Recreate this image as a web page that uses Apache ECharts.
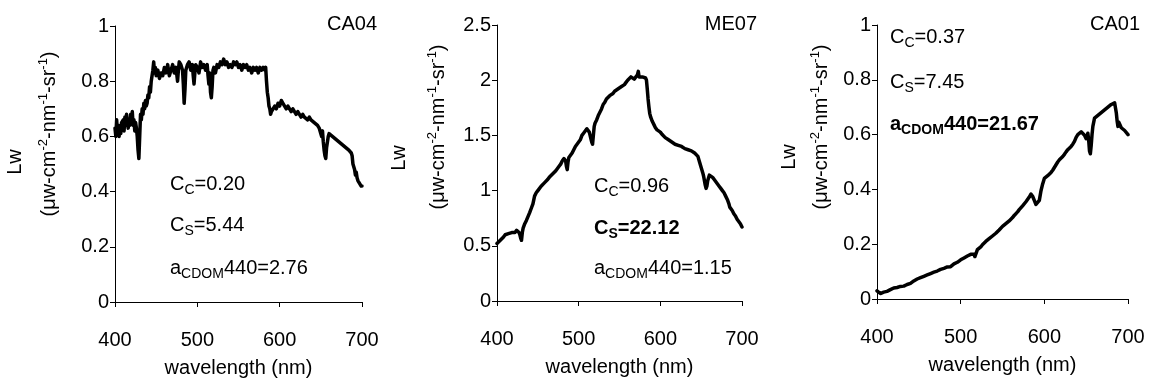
<!DOCTYPE html>
<html><head><meta charset="utf-8">
<script src="https://cdn.jsdelivr.net/npm/echarts@6/dist/echarts.min.js"></script>
<style>html,body{margin:0;padding:0;background:#fff}#c{width:1161px;height:387px}</style>
</head><body><div id="c"></div>
<script>
// Panel CA04
const wl1 = [400,401,402,403,404,405,406,407,408,410,411,412,413,414,415,416,417,418,419,420,421,422,423,424,425,426,427,428,429,430,431,432,433,434,435,436,437,438,439,440,441,442,443,444,445,446,447,448,449,450,452,454,456,458,460,462,464,466,468,470,472,474,476,477,478,480,482,483,484,485,486,488,490,492,494,495,496,497,498,500,502,504,506,508,510,512,513,514,515,516,517,518,519,520,522,524,526,528,530,532,534,536,538,540,542,544,546,548,550,552,554,556,558,560,562,564,566,568,570,572,574,576,578,580,582,583,584,585,586,587,588,589,590,592,594,596,598,600,602,604,606,608,610,612,614,616,618,620,622,624,626,628,630,632,634,636,638,640,642,644,646,648,650,651,652,653,654,655,656,657,658,659,660,662,664,666,668,670,672,674,676,678,680,682,684,686,687,688,689,690,691,692,693,694,695,696,697,698,699,700];
const lw1 = [.63,.60,.66,.61,.64,.60,.63,.61,.65,.66,.62,.67,.64,.68,.65,.63,.66,.64,.68,.65,.69,.64,.66,.62,.65,.63,.60,.55,.52,.60,.68,.66,.70,.68,.72,.70,.73,.71,.72,.75,.74,.78,.76,.80,.82,.84,.87,.83,.85,.82,.84,.81,.83,.82,.85,.83,.86,.82,.84,.86,.83,.85,.80,.84,.87,.86,.84,.79,.72,.77,.84,.86,.87,.84,.86,.82,.79,.83,.86,.85,.83,.87,.85,.86,.84,.86,.82,.79,.83,.76,.74,.78,.84,.85,.83,.86,.85,.87,.86,.88,.86,.87,.85,.86,.85,.87,.86,.87,.85,.86,.84,.86,.85,.86,.84,.85,.83,.85,.84,.85,.83,.85,.84,.85,.84,.85,.80,.76,.74,.71,.70,.68,.69,.70,.71,.70,.72,.71,.73,.72,.71,.70,.71,.70,.69,.70,.69,.68,.69,.68,.67,.68,.67,.67,.66,.67,.66,.66,.65,.65,.64,.63,.61,.60,.62,.58,.55,.53,.52,.56,.58,.60,.61,.61,.60,.60,.59,.59,.58,.58,.57,.57,.56,.56,.55,.55,.54,.53,.50,.49,.48,.46,.47,.45,.44,.44,.43,.43,.42,.42];
// Panel ME07
const wl2 = [400,402,404,406,408,410,412,414,416,418,420,422,424,426,427,428,429,430,431,432,434,436,438,440,442,444,446,448,450,452,454,456,458,460,462,464,466,468,470,472,474,476,478,480,482,483,484,485,486,487,488,490,492,494,496,498,500,502,504,506,508,510,512,513,514,515,516,517,518,519,520,522,524,526,528,530,532,534,536,538,540,542,544,546,548,550,552,554,556,558,560,562,564,566,568,570,572,573,574,576,578,580,582,583,584,585,586,587,588,590,592,594,596,598,600,602,604,606,608,610,612,614,616,618,620,622,624,626,628,630,632,634,636,638,640,642,644,646,648,650,652,653,654,655,656,657,658,660,662,664,666,668,670,672,674,676,678,680,682,684,685,686,688,690,692,694,696,698,700];
const lw2 = [.52,.53,.55,.56,.58,.60,.59,.61,.60,.62,.63,.62,.64,.63,.62,.60,.57,.55,.62,.66,.70,.73,.74,.80,.84,.88,.95,.98,1.00,1.01,1.04,1.05,1.07,1.08,1.10,1.12,1.13,1.15,1.16,1.18,1.19,1.22,1.24,1.27,1.29,1.30,1.27,1.22,1.19,1.26,1.30,1.32,1.34,1.37,1.40,1.42,1.44,1.46,1.50,1.52,1.54,1.56,1.55,1.53,1.50,1.47,1.44,1.42,1.50,1.58,1.61,1.64,1.68,1.71,1.74,1.78,1.80,1.83,1.84,1.86,1.87,1.88,1.90,1.91,1.92,1.93,1.94,1.95,1.96,1.98,2.00,2.01,2.03,2.02,2.01,2.00,2.05,2.08,2.03,2.04,2.03,2.02,2.02,2.00,1.92,1.83,1.76,1.70,1.67,1.63,1.60,1.57,1.55,1.54,1.53,1.51,1.50,1.48,1.47,1.46,1.45,1.44,1.43,1.42,1.41,1.41,1.40,1.40,1.39,1.38,1.38,1.37,1.37,1.36,1.35,1.34,1.33,1.31,1.26,1.21,1.16,1.13,1.09,1.05,1.02,1.04,1.09,1.14,1.13,1.12,1.10,1.08,1.06,1.04,1.02,1.00,.98,.95,.92,.88,.85,.84,.82,.79,.77,.74,.72,.70,.67];
// Panel CA01
const wl3 = [400,402,404,406,408,410,412,414,416,418,420,422,424,426,428,430,432,434,436,438,440,442,444,446,448,450,452,454,456,458,460,462,464,466,468,470,472,474,476,478,480,482,484,486,488,490,492,494,496,498,500,502,504,506,508,510,512,514,516,517,518,520,522,524,526,528,530,532,534,536,538,540,542,544,546,548,550,552,554,556,558,560,562,564,566,568,570,572,574,576,578,580,582,584,585,586,588,590,592,594,596,598,600,602,604,606,608,610,612,614,616,618,620,622,624,626,628,630,632,634,636,638,640,642,644,646,648,650,651,652,653,654,655,656,657,658,660,662,664,666,668,670,672,674,676,678,680,682,684,685,686,687,688,689,690,692,694,696,698,700];
const lw3 = [.03,.025,.02,.025,.025,.03,.028,.032,.034,.036,.04,.038,.042,.044,.046,.048,.047,.05,.053,.055,.057,.062,.066,.07,.073,.076,.078,.08,.083,.086,.088,.09,.093,.096,.098,.10,.102,.105,.108,.11,.112,.115,.117,.12,.118,.124,.128,.13,.134,.138,.143,.146,.15,.154,.157,.161,.163,.166,.163,.155,.158,.18,.185,.19,.198,.205,.21,.214,.22,.226,.23,.234,.24,.246,.252,.258,.265,.27,.275,.28,.285,.29,.297,.305,.31,.318,.326,.333,.34,.347,.355,.362,.372,.383,.39,.375,.36,.345,.342,.36,.395,.42,.44,.445,.45,.455,.462,.47,.48,.49,.50,.508,.515,.52,.528,.537,.545,.55,.557,.565,.575,.59,.60,.605,.61,.605,.598,.585,.59,.605,.58,.54,.53,.56,.60,.63,.66,.665,.67,.675,.68,.685,.69,.695,.70,.705,.71,.712,.716,.72,.68,.65,.63,.645,.64,.625,.62,.615,.61,.60];

const xTicks = [400, 500, 600, 700];
const panelNames = ['CA04', 'ME07', 'CA01'];
const yMax = [1, 2.5, 1];
const yStep = [0.2, 0.5, 0.2];
const xTitle = 'wavelength (nm)';
const yTitle1 = 'Lw';

function hasFont(name){
  const c = document.createElement('canvas').getContext('2d');
  const s = 'wavelength 0123456789';
  c.font = '40px monospace'; const w1 = c.measureText(s).width;
  c.font = '40px "' + name + '", monospace'; const w2 = c.measureText(s).width;
  return Math.abs(w1 - w2) > 0.5;
}
const NARROW = hasFont('Liberation Sans Narrow');
const FF = NARROW ? '"Liberation Sans Narrow", "Arial Narrow", sans-serif' : '"Liberation Sans", Arial, sans-serif';
const FS = NARROW ? 23 : 20;
const SUB = NARROW ? 16 : 14;

const zip = (a, b) => a.map((x, i) => [x, b[i]]);
const datas = [zip(wl1, lw1), zip(wl2, lw2), zip(wl3, lw3)];

const grids = [
  {left: 115, width: 247, top: 26, height: 276},
  {left: 497, width: 245, top: 25, height: 276},
  {left: 877, width: 251, top: 25, height: 274}
];

const option = {
  animation: false,
  backgroundColor: '#fff',
  grid: grids,
  xAxis: grids.map((g, i) => ({
    type: 'value', gridIndex: i, min: 400, max: 700, interval: 100,
    axisLine: {show: true, onZero: false, lineStyle: {color: '#000', width: 1}},
    axisTick: {show: true, length: 5, lineStyle: {color: '#000'}},
    splitLine: {show: false},
    axisLabel: {color: '#000', fontFamily: FF, fontSize: FS, margin: 28, showMinLabel: true, showMaxLabel: true},
    name: xTitle, nameLocation: 'middle', nameGap: 56,
    nameTextStyle: {color: '#000', fontFamily: FF, fontSize: FS}
  })),
  yAxis: grids.map((g, i) => ({
    type: 'value', gridIndex: i, min: 0, max: yMax[i], interval: yStep[i],
    axisLine: {show: true, lineStyle: {color: '#000', width: 1}},
    axisTick: {show: true, length: 5, lineStyle: {color: '#000'}},
    splitLine: {show: false},
    axisLabel: {color: '#000', fontFamily: FF, fontSize: FS, margin: 6}
  })),
  series: datas.map((d, i) => ({
    type: 'line', xAxisIndex: i, yAxisIndex: i, data: d,
    showSymbol: false, symbol: 'none', smooth: false,
    lineStyle: {color: '#000', width: 3.5, join: 'round', cap: 'round'}
  })),
  graphic: []
};

function richStyles(bold){
  const w = bold ? 'bold' : 'normal';
  return {
    m: {fontFamily: FF, fontSize: FS, fontWeight: w, fill: '#000', color: '#000'},
    s: {fontFamily: FF, fontSize: SUB, fontWeight: w, fill: '#000', color: '#000', padding: [12, 0, 0, 0]},
    p: {fontFamily: FF, fontSize: SUB - 1, fill: '#000', color: '#000', padding: [0, 0, 12, 0]}
  };
}
function txt(x, y, text, bold, align){
  return {type: 'text', x: x, y: y, z: 100,
    style: {text: text, rich: richStyles(bold), align: align || 'left', verticalAlign: 'middle', fill: '#000',
      font: (bold ? 'bold ' : '') + FS + 'px ' + FF}};
}
function ytitle(x1, x2, yc1, yc2){
  return [
    {type: 'text', x: x1, y: yc1, rotation: Math.PI / 2, z: 100,
     style: {text: yTitle1, align: 'center', verticalAlign: 'middle', fill: '#000', font: FS + 'px ' + FF}},
    {type: 'text', x: x2, y: yc2, rotation: Math.PI / 2, z: 100,
     style: {text: '{m|(μw-cm}{p|-2}{m|-nm}{p|-1}{m|-sr}{p|-1}{m|)}', rich: richStyles(false), align: 'center', verticalAlign: 'middle', fill: '#000', font: FS + 'px ' + FF}}
  ];
}

// panel labels
const corner = [[377, 24], [757, 24], [1140, 24]];
corner.forEach((c, i) => option.graphic.push({type: 'text', x: c[0], y: c[1], z: 100,
  style: {text: panelNames[i], align: 'right', verticalAlign: 'middle', fill: '#000', font: FS + 'px ' + FF}}));

// annotations
option.graphic.push(txt(170, 184, '{m|C}{s|C}{m|=0.20}', false));
option.graphic.push(txt(170, 225, '{m|C}{s|S}{m|=5.44}', false));
option.graphic.push(txt(170, 268, '{m|a}{s|CDOM}{m|440=2.76}', false));

option.graphic.push(txt(594, 186, '{m|C}{s|C}{m|=0.96}', false));
option.graphic.push(txt(594, 228, '{m|C}{s|S}{m|=22.12}', true));
option.graphic.push(txt(594, 268, '{m|a}{s|CDOM}{m|440=1.15}', false));

option.graphic.push(txt(890, 37, '{m|C}{s|C}{m|=0.37}', false));
option.graphic.push(txt(890, 82, '{m|C}{s|S}{m|=7.45}', false));
option.graphic.push(txt(890, 124, '{m|a}{s|CDOM}{m|440=21.67}', true));

option.graphic.push(...ytitle(15, 49, 162, 134));
option.graphic.push(...ytitle(399, 438, 158, 127));
option.graphic.push(...ytitle(789, 821, 157, 127));

const chart = echarts.init(document.getElementById('c'), null, {renderer: 'canvas'});
chart.setOption(option);
</script></body></html>
